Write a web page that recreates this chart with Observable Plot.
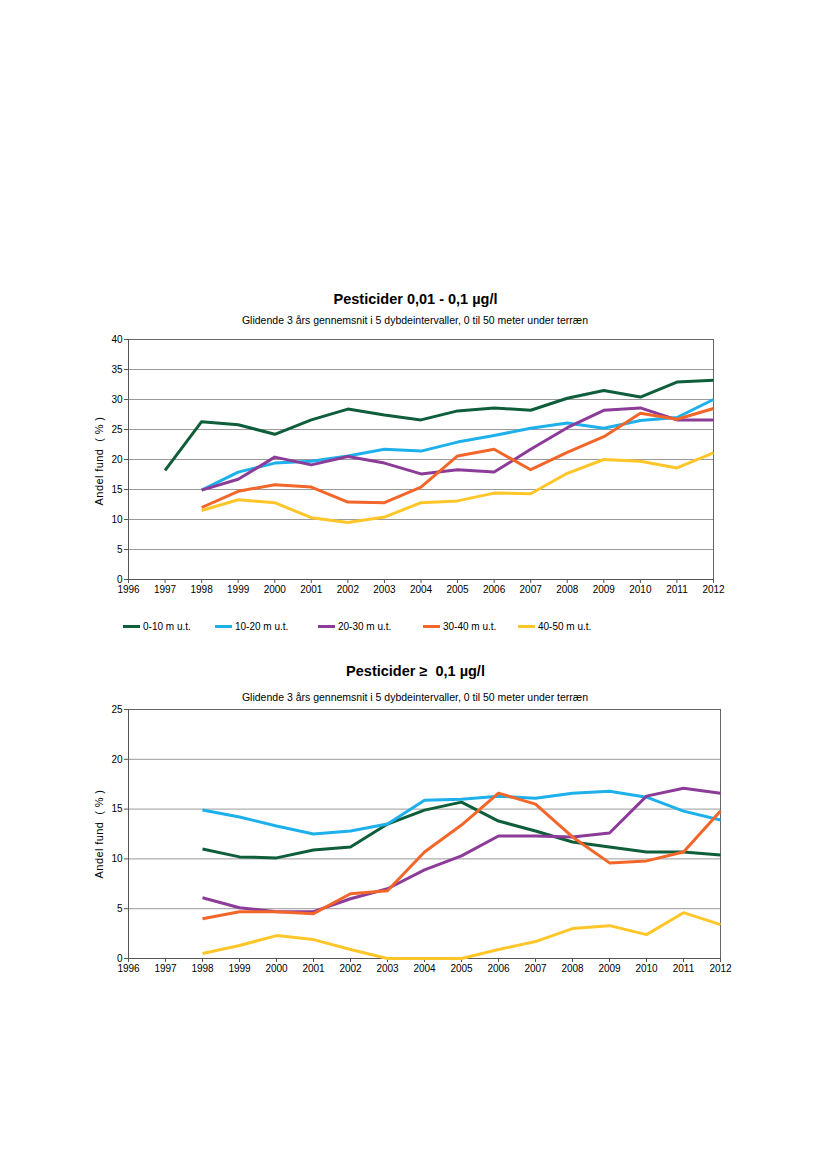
<!DOCTYPE html>
<html><head><meta charset="utf-8">
<script src="https://cdn.jsdelivr.net/npm/d3@7"></script>
<script src="https://cdn.jsdelivr.net/npm/@observablehq/plot@0.6"></script>
<style>
body{margin:0;background:#fff;font-family:"Liberation Sans",Arial,sans-serif;color:#000;}
#page{position:relative;width:827px;height:1169px;overflow:hidden;}
.title{position:absolute;left:0;width:831px;text-align:center;font-weight:bold;font-size:14.5px;line-height:16px;z-index:2;}
.sub{position:absolute;left:0;width:830px;text-align:center;font-size:10.5px;line-height:12px;z-index:2;}
.chart{position:absolute;left:0;z-index:1;}
.ylab{position:absolute;width:120px;text-align:center;font-size:11px;line-height:12px;letter-spacing:0.4px;transform:rotate(-90deg);transform-origin:center center;z-index:2;white-space:pre;}
.leg{position:absolute;font-size:10px;line-height:12px;white-space:nowrap;}
.leg span.sw{display:inline-block;width:17px;height:3px;vertical-align:middle;margin-right:3px;position:relative;top:-1px;}
</style>
</head><body>
<div id="page">
  <div class="chart" id="c1" style="top:330px"></div>
  <div class="chart" id="c2" style="top:700px"></div>
  <div class="title" style="top:291px">Pesticider 0,01 - 0,1 µg/l</div>
  <div class="sub" style="top:314px">Glidende 3 års gennemsnit i 5 dybdeintervaller, 0 til 50 meter under terræn</div>
  <div class="ylab" id="yl1" style="left:39px;top:455px"></div>
  <div id="legend"></div>
  <div class="title" style="top:663px">Pesticider ≥&nbsp; 0,1 µg/l</div>
  <div class="sub" style="top:691px">Glidende 3 års gennemsnit i 5 dybdeintervaller, 0 til 50 meter under terræn</div>
  <div class="ylab" id="yl2" style="left:39px;top:828px"></div>
</div>
<script>
const years = [1996,1997,1998,1999,2000,2001,2002,2003,2004,2005,2006,2007,2008,2009,2010,2011,2012];
const seriesNames = ["0-10 m u.t.","10-20 m u.t.","20-30 m u.t.","30-40 m u.t.","40-50 m u.t."];
const seriesColors = ["#0e5e3b","#1eb0ea","#8c3b99","#f2662a","#ffc629"];
const legendX = [123,215,318,423,518];

// Chart 1: Pesticider 0,01 - 0,1 µg/l
const top0_10  = [null,18.2,26.3,25.8,24.2,26.6,28.4,27.4,26.6,28.1,28.6,28.2,30.2,31.5,30.4,32.9,33.2];
const top10_20 = [null,null,14.9,17.9,19.4,19.7,20.6,21.7,21.4,22.9,24.0,25.2,26.1,25.2,26.5,27.0,30.0];
const top20_30 = [null,null,14.9,16.7,20.4,19.1,20.5,19.4,17.6,18.3,17.9,21.7,25.3,28.2,28.6,26.6,26.6];
const top30_40 = [null,null,12.0,14.7,15.8,15.4,12.9,12.8,15.4,20.6,21.7,18.3,21.2,23.8,27.7,26.7,28.5];
const top40_50 = [null,null,11.5,13.3,12.8,10.3,9.5,10.4,12.8,13.1,14.4,14.3,17.7,20.0,19.7,18.6,21.1];
const topTicks = [0,5,10,15,20,25,30,35,40];

// Chart 2: Pesticider >= 0,1 µg/l
const bot0_10  = [null,null,11.0,10.2,10.1,10.9,11.2,13.5,14.9,15.7,13.8,12.8,11.7,11.2,10.7,10.7,10.4];
const bot10_20 = [null,null,14.9,14.2,13.3,12.5,12.8,13.5,15.9,16.0,16.3,16.1,16.6,16.8,16.2,14.8,13.9];
const bot20_30 = [null,null,6.1,5.1,4.7,4.7,6.0,7.0,8.9,10.3,12.3,12.3,12.2,12.6,16.3,17.1,16.6];
const bot30_40 = [null,null,4.0,4.7,4.7,4.5,6.5,6.8,10.7,13.4,16.6,15.5,12.2,9.6,9.8,10.7,14.8];
const bot40_50 = [null,null,0.5,1.3,2.3,1.9,0.9,0.0,0.0,0.0,0.9,1.7,3.0,3.3,2.4,4.6,3.4];
const botTicks = [0,5,10,15,20,25];

const yLabel = "Andel fund  ( % )";
document.getElementById("yl1").textContent = yLabel;
document.getElementById("yl2").textContent = yLabel;

function toRows(arrs){
  const rows = [];
  arrs.forEach((a,i)=>a.forEach((v,j)=>rows.push({year:years[j], value:v, series:seriesNames[i]})));
  return rows;
}

function makeChart(arrs, ticks, opts){
  const rows = toRows(arrs);
  const ymax = ticks[ticks.length-1];
  return Plot.plot({
    width: 827,
    height: opts.height,
    marginTop: 9,
    marginBottom: opts.marginBottom,
    marginLeft: 128,
    marginRight: opts.marginRight,
    style: {fontFamily: '"Liberation Sans", Arial, sans-serif', fontSize: "10px", color: "#000", background: "transparent"},
    x: {domain: [1996, 2012]},
    y: {domain: [0, ymax]},
    color: {domain: seriesNames, range: seriesColors},
    marks: [
      Plot.ruleY(ticks, {stroke: "#9a9a9a", strokeWidth: 1}),
      Plot.frame({stroke: "#666", strokeWidth: 1}),
      Plot.ruleX([1996], {stroke: "#555"}),
      Plot.ruleY([0], {stroke: "#555"}),
      Plot.axisX({ticks: years, tickFormat: d => String(d), tickSize: 4, tickPadding: 2, label: null, stroke: "#555"}),
      Plot.axisY({ticks: ticks, tickSize: 4, tickPadding: 2, label: null, stroke: "#555"}),
      Plot.line(rows, {x: "year", y: "value", z: "series", stroke: "series", strokeWidth: 3, strokeLinejoin: "round", strokeLinecap: "butt"})
    ]
  });
}

document.getElementById("c1").appendChild(makeChart([top0_10,top10_20,top20_30,top30_40,top40_50], topTicks, {height: 279, marginBottom: 30, marginRight: 114}));
document.getElementById("c2").appendChild(makeChart([bot0_10,bot10_20,bot20_30,bot30_40,bot40_50], botTicks, {height: 288, marginBottom: 30, marginRight: 107}));

const leg = document.getElementById("legend");
seriesNames.forEach((n,i)=>{
  const d = document.createElement("div");
  d.className = "leg";
  d.style.left = legendX[i] + "px";
  d.style.top = "621px";
  const sw = document.createElement("span");
  sw.className = "sw";
  sw.style.background = seriesColors[i];
  d.appendChild(sw);
  d.appendChild(document.createTextNode(n));
  leg.appendChild(d);
});
</script>
</body></html>
